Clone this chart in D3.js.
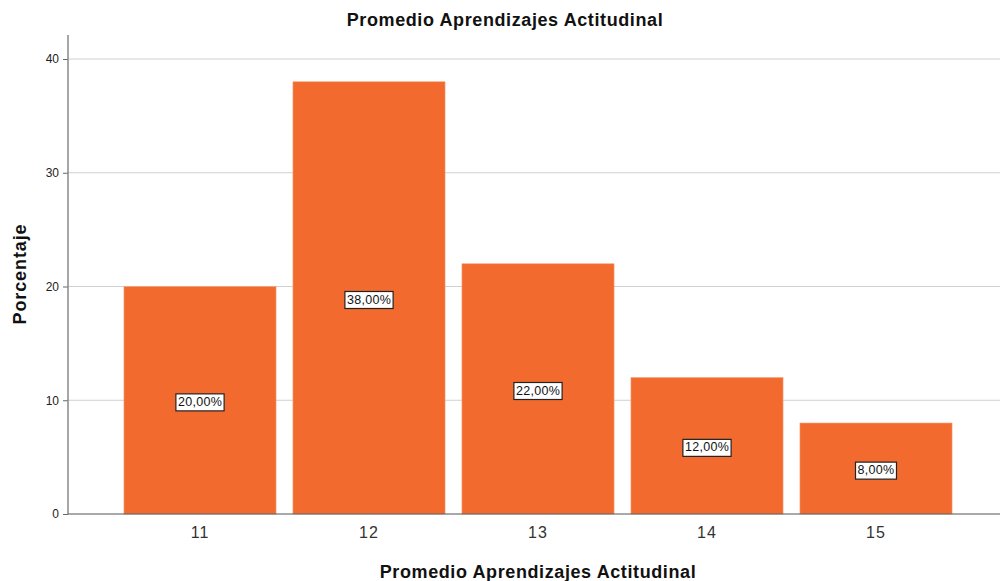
<!DOCTYPE html>
<html><head><meta charset="utf-8">
<script src="https://cdn.jsdelivr.net/npm/d3@7"></script>
<style>body{margin:0;background:#fff}svg{display:block;font-family:"Liberation Sans",Arial,sans-serif}</style>
</head><body>
<svg id="c" width="1001" height="581"></svg>
<script>
const categories = ["11","12","13","14","15"];
const values = [20, 38, 22, 12, 8];
const labels = ["20,00%","38,00%","22,00%","12,00%","8,00%"];
const yTicks = [0,10,20,30,40];
const title = "Promedio Aprendizajes Actitudinal";
const xTitle = "Promedio Aprendizajes Actitudinal";
const yTitle = "Porcentaje";

const svg = d3.select("#c");
const x0 = 68, x1 = 1000, yBottom = 514, yTop = 35;
const y = d3.scaleLinear().domain([0,40]).range([514, 59]);
const x = d3.scaleBand().domain(categories).range([115.5, 960.5]).paddingInner(0.1).paddingOuter(0.05);

// gridlines
svg.append("g").selectAll("line").data(yTicks.filter(d=>d>0)).join("line")
  .attr("x1", x0).attr("x2", x1).attr("y1", d=>y(d)).attr("y2", d=>y(d))
  .attr("stroke", "#d0d0d0").attr("stroke-width", 1);

// bars
svg.append("g").selectAll("rect").data(values).join("rect")
  .attr("x", (d,i)=>x(categories[i])).attr("width", x.bandwidth())
  .attr("y", d=>y(d)).attr("height", d=>y(0)-y(d))
  .attr("fill", "#f26a2d").attr("stroke", "#f7a47d").attr("stroke-width", 0.6);

// y axis
const yAxis = svg.append("g").attr("transform", `translate(${x0},0)`)
  .call(d3.axisLeft(y).tickValues(yTicks).tickSize(5).tickPadding(4));
yAxis.select(".domain").remove();
yAxis.selectAll(".tick line").attr("stroke", "#666");
yAxis.selectAll("text").attr("font-size", 12).attr("fill", "#222").attr("font-family", "Liberation Sans, Arial, sans-serif");
svg.append("line").attr("x1", x0).attr("x2", x0).attr("y1", yTop).attr("y2", yBottom)
  .attr("stroke", "#888").attr("stroke-width", 1.5);

// x axis
const xAxis = svg.append("g").attr("transform", `translate(0,${yBottom})`)
  .call(d3.axisBottom(x).tickSize(0).tickPadding(13));
xAxis.select(".domain").remove();
xAxis.selectAll("text").attr("font-size", 16).attr("letter-spacing", 1).attr("fill", "#333").attr("font-family", "Liberation Sans, Arial, sans-serif");
svg.append("line").attr("x1", x0).attr("x2", x1).attr("y1", yBottom).attr("y2", yBottom)
  .attr("stroke", "#555").attr("stroke-width", 1.2);

// value labels
const lg = svg.append("g").selectAll("g").data(values).join("g")
  .attr("transform", (d,i)=>`translate(${x(categories[i]) + x.bandwidth()/2},${y(d/2)})`);
lg.append("text").text((d,i)=>labels[i]).attr("text-anchor","middle").attr("dy","0.45em")
  .attr("font-size", 12.5).attr("letter-spacing", 0.3).attr("fill", "#111");
lg.each(function(){
  const g = d3.select(this); const t = g.select("text").node().getBBox();
  g.insert("rect","text").attr("x", t.x-2).attr("y", t.y-1).attr("width", t.width+4).attr("height", t.height+3)
    .attr("fill","#fff").attr("stroke","#222").attr("stroke-width",1.2);
});

// titles
svg.append("text").attr("x", 505).attr("y", 26).attr("text-anchor","middle")
  .attr("font-size", 18).attr("letter-spacing", 0.6).attr("font-weight","bold").attr("fill","#111").text(title);
svg.append("text").attr("x", 538).attr("y", 578).attr("text-anchor","middle")
  .attr("font-size", 18).attr("letter-spacing", 0.6).attr("font-weight","bold").attr("fill","#111").text(xTitle);
svg.append("text").attr("transform","translate(26,274) rotate(-90)").attr("text-anchor","middle")
  .attr("font-size", 18).attr("letter-spacing", 0.9).attr("font-weight","bold").attr("fill","#111").text(yTitle);
</script>
</body></html>
